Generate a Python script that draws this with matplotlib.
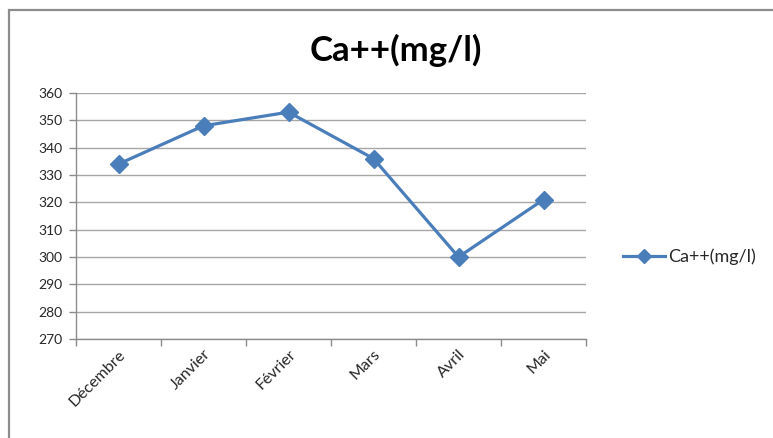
import matplotlib
matplotlib.use("Agg")
import matplotlib.pyplot as plt
from matplotlib.patches import Rectangle

plt.rcParams['font.family'] = ['Lato', 'DejaVu Sans']

months = ["Décembre", "Janvier", "Février", "Mars", "Avril", "Mai"]
calcium = [334, 348, 353, 336, 300, 321]
series_name = "Ca++(mg/l)"
y_ticks = [270, 280, 290, 300, 310, 320, 330, 340, 350, 360]

W, H = 773, 438
fig = plt.figure(figsize=(W / 100, H / 100), dpi=100)
fig.patch.set_facecolor("white")

# outer chart frame
fig.patches.append(Rectangle((9 / W, -0.05), 1.2, 1 - 10 / H + 0.05,
                             transform=fig.transFigure, fill=False,
                             edgecolor="#8c8c8c", linewidth=1.6))

ax = fig.add_axes([76 / W, 1 - 339 / H, (586 - 76) / W, (339 - 93) / H])
x = list(range(len(months)))
line_color = "#4a7ebb"
ax.plot(x, calcium, color=line_color, linewidth=2.3, marker="D",
        markersize=9, label=series_name, zorder=3)

ax.set_xlim(-0.5, len(months) - 0.5)
ax.set_ylim(270, 360)
ax.set_yticks(y_ticks)
ax.yaxis.grid(True, color="#a6a6a6", linewidth=1.0)
ax.set_axisbelow(True)

# category boundaries carry the tick marks, labels sit at the centers
ax.set_xticks([i - 0.5 for i in range(len(months) + 1)])
ax.set_xticklabels([])
ax.set_xticks(x, minor=True)
ax.set_xticklabels(months, minor=True, rotation=45, ha="right",
                   rotation_mode="anchor", fontsize=11.5, color="#262626")
ax.tick_params(axis="x", which="minor", length=0, pad=6)
ax.tick_params(axis="x", which="major", length=5, color="#8c8c8c", width=1)
ax.tick_params(axis="y", length=5, color="#8c8c8c", width=1,
               labelsize=10, labelcolor="#262626", pad=5)

for side in ("top", "right"):
    ax.spines[side].set_visible(False)
for side in ("left", "bottom"):
    ax.spines[side].set_color("#8c8c8c")
    ax.spines[side].set_linewidth(1.0)

fig.text(396 / W, 1 - 50 / H, series_name, ha="center", va="center",
         fontsize=25, fontweight="bold", color="black")

leg = ax.legend(loc="center left", bbox_to_anchor=(607 / W, 1 - 257 / H),
                bbox_transform=fig.transFigure, frameon=False,
                fontsize=13, handlelength=2.3, handletextpad=0.2,
                markerscale=0.75)
for t in leg.get_texts():
    t.set_color("#262626")

fig.savefig("out.png", dpi=100)
